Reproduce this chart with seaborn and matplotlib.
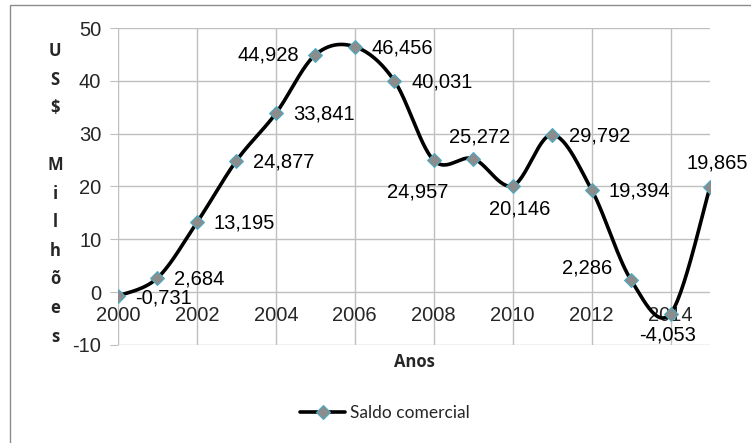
import numpy as np
import pandas as pd
import seaborn as sns
import matplotlib.pyplot as plt
from matplotlib.lines import Line2D
from matplotlib.patches import Rectangle

# Data
anos = [2000, 2001, 2002, 2003, 2004, 2005, 2006, 2007,
        2008, 2009, 2010, 2011, 2012, 2013, 2014, 2015]
saldo = [-0.731, 2.684, 13.195, 24.877, 33.841, 44.928, 46.456, 40.031,
         24.957, 25.272, 20.146, 29.792, 19.394, 2.286, -4.053, 19.865]
rotulos = [f"{v:.3f}".replace(".", ",") for v in saldo]

# label placement (pixels, relative to point) - position only
label_pos = {
    2000: (17, -2, "left"), 2005: (-16, 0, "right"), 2008: (-16, -32, "center"),
    2009: (6, 22, "center"), 2010: (7, -23, "center"), 2013: (-19, 12, "right"),
    2014: (-3, -21, "center"), 2015: (7, 24, "center"),
}

sns.set_style("white")
plt.rcParams['font.family'] = ['Liberation Sans', 'DejaVu Sans']
plt.rcParams['axes.unicode_minus'] = False

fig = plt.figure(figsize=(7.51, 4.43), dpi=100)
ax = fig.add_axes([118 / 751, 1 - 345 / 443, 592 / 751, 317 / 443])


def smooth(x, y, n=30):
    # Catmull-Rom style bezier smoothing (like Excel "smoothed line")
    x = np.asarray(x, float)
    y = np.asarray(y, float)
    px = np.concatenate([[x[0]], x, [x[-1]]])
    py = np.concatenate([[y[0]], y, [y[-1]]])
    out_x, out_y = [], []
    t = np.linspace(0, 1, n)
    for i in range(1, len(px) - 2):
        p0, p1, p2, p3 = (np.array([px[j], py[j]]) for j in range(i - 1, i + 3))
        c1 = p1 + (p2 - p0) / 6
        c2 = p2 - (p3 - p1) / 6
        b = (np.outer((1 - t) ** 3, p1) + np.outer(3 * (1 - t) ** 2 * t, c1)
             + np.outer(3 * (1 - t) * t ** 2, c2) + np.outer(t ** 3, p2))
        out_x.extend(b[:, 0])
        out_y.extend(b[:, 1])
    return out_x, out_y


sx, sy = smooth(anos, saldo)
curve = pd.DataFrame({"x": sx, "y": sy})
df = pd.DataFrame({"Anos": anos, "Saldo": saldo})

sns.lineplot(data=curve, x="x", y="y", sort=False, estimator=None,
             color="black", linewidth=2.6, ax=ax, zorder=3)
sns.scatterplot(data=df, x="Anos", y="Saldo", marker="D", s=50,
                color="#8c8c8c", edgecolor="#4bacc6", linewidth=0.8,
                ax=ax, zorder=4)

for a, v, r in zip(anos, saldo, rotulos):
    dx, dy, ha = label_pos.get(a, (17, -1, "left"))
    ax.annotate(r, (a, v), xytext=(dx, dy), textcoords="offset pixels",
                ha=ha, va="center", fontsize=14.5, color="black", zorder=5)

ax.set_xlim(2000, 2015)
ax.set_ylim(-10, 50)
ax.set_xticks(range(2000, 2015, 2))
ax.set_yticks(range(-10, 51, 10))
ax.grid(True, color="#bfbfbf", linewidth=1.0)
ax.set_axisbelow(True)
for s in ax.spines.values():
    s.set_visible(False)
ax.spines['bottom'].set_position(('data', 0))
ax.tick_params(axis='x', length=0, pad=10, labelsize=14.5)
ax.tick_params(axis='y', length=6, color="#bfbfbf", pad=6, labelsize=14.5, left=True)
ax.set_xlabel("")
ax.set_ylabel("")

fig.text(414 / 751, 1 - 362 / 443, "Anos", ha="center", va="center",
         fontsize=12, fontweight="bold", family="Open Sans")
fig.text(55 / 751, 1 - 194 / 443, "U\nS\n$\n\nM\ni\nl\nh\nõ\ne\ns", ha="center",
         va="center", fontsize=12, fontweight="bold", family="Open Sans",
         linespacing=1.75)

handle = Line2D([], [], color="black", linewidth=2.6, marker="D", markersize=7,
                markerfacecolor="#8c8c8c", markeredgecolor="#4bacc6",
                markeredgewidth=0.8)
fig.legend([handle], ["Saldo comercial"], loc="center",
           bbox_to_anchor=(385 / 751, 1 - 413 / 443), frameon=False,
           prop={"family": "Lato", "size": 12.5}, handlelength=2.6,
           handletextpad=0.3)

fig.patches.append(Rectangle((10 / 751, -0.1), 1.2, 1 - 5 / 443 + 0.1,
                             transform=fig.transFigure, fill=False,
                             edgecolor="#8c8c8c", linewidth=1.0))

fig.savefig("out.png", dpi=100, facecolor="white")
